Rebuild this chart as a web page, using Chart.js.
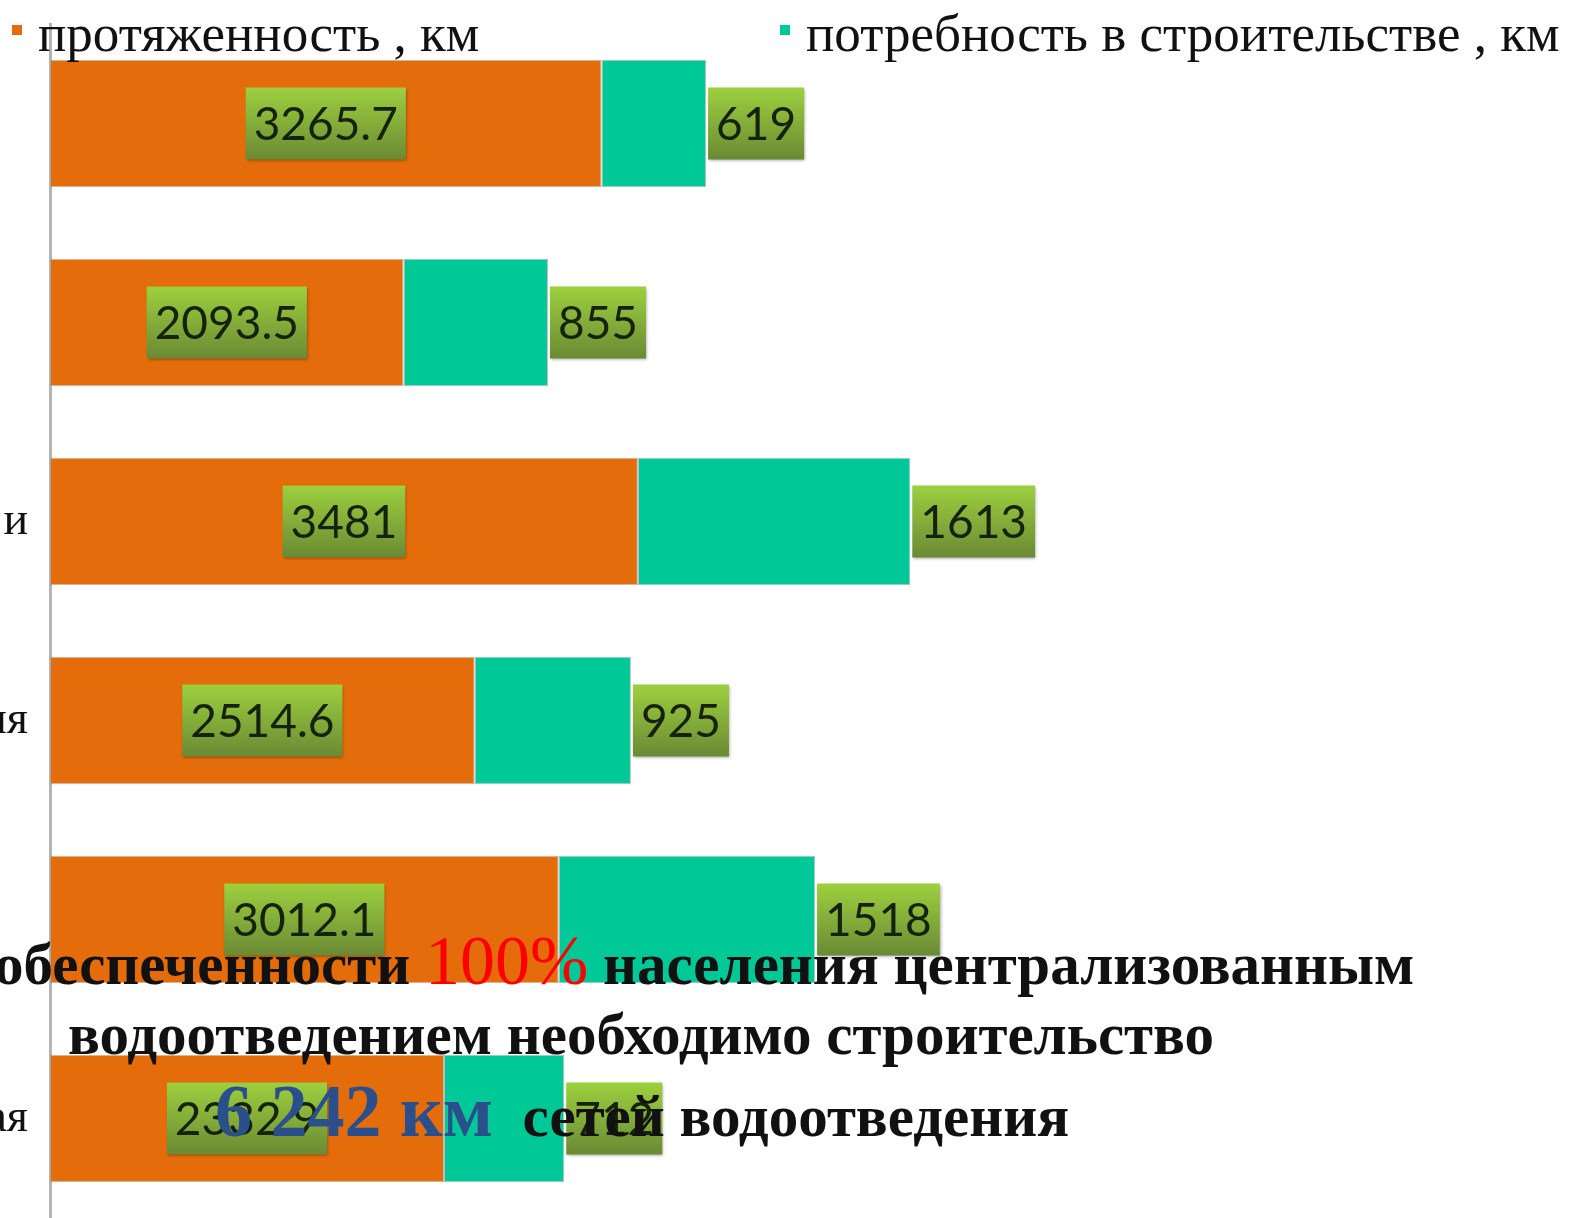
<!DOCTYPE html>
<html lang="ru">
<head>
<meta charset="utf-8">
<script src="https://cdn.jsdelivr.net/npm/chart.js@4.4.1/dist/chart.umd.min.js"></script>
<style>
  html, body { margin: 0; padding: 0; background: #fff; overflow: hidden; }
  #wrap { position: relative; width: 1570px; height: 1218px; overflow: hidden; }
  #wrap canvas { position: absolute; left: 0; top: 0; }
  #legend { position: absolute; left: 0; top: 0; margin: 0; padding: 0; list-style: none; }
  #legend li { position: absolute; top: 3px; white-space: nowrap; font: 53px "Liberation Serif", serif; color: #111; line-height: 60px; }
  #legend li span { position: absolute; top: 22px; width: 10px; height: 10px; }
  .note { position: absolute; white-space: nowrap; font: bold 59px "Liberation Serif", serif; color: #111; line-height: 60px; }
  .note .red { color: #ff0000; font-weight: normal; font-size: 70px; line-height: 0; }
  .note .blue { color: #2b4f8c; font-size: 74px; line-height: 0; }
</style>
</head>
<body>
<div id="wrap">
  <canvas id="chart" width="1570" height="1218"></canvas>
  <ul id="legend"></ul>
  <div class="note" style="left:-6px; top:934px;">обеспеченности <span class="red">100%</span> населения централизованным</div>
  <div class="note" style="left:68px; top:1004px;">водоотведением необходимо строительство</div>
  <div class="note" style="left:215px; top:1086px;"><span class="blue">6 242 км</span>&nbsp; сетей водоотведения</div>
</div>
<script>
// категории (подписи обрезаны слева, видны только окончания)
const categories = ["", "", "и", "ия", "", "ая"];
// ряды данных
const lengthKm = [3265.7, 2093.5, 3481, 2514.6, 3012.1, 2332.9];
const needKm = [619, 855, 1613, 925, 1518, 712];
const seriesNames = ["протяженность , км", "потребность в строительстве , км"];
const seriesColors = ["#e46c0a", "#00c896"];

// легенда
const legendElem = document.getElementById("legend");
const legendX = [12, 780];
seriesNames.forEach((name, idx) => {
  const li = document.createElement("li");
  const badge = document.createElement("span");
  li.textContent = name;
  li.style.left = legendX[idx] + 26 + "px";
  badge.style.left = "-26px";
  badge.style.backgroundColor = seriesColors[idx];
  li.prepend(badge);
  legendElem.appendChild(li);
});

// подписи значений (зелёные плашки)
const valueLabels = {
  id: "valueLabels",
  afterDatasetsDraw(chart) {
    const ctx = chart.ctx;
    ctx.save();
    ctx.font = "46px Lato";
    ctx.textAlign = "center";
    ctx.textBaseline = "middle";
    chart.data.datasets.forEach((ds, di) => {
      chart.getDatasetMeta(di).data.forEach((bar, i) => {
        const text = String(ds.data[i]);
        const w = ctx.measureText(text).width + 16;
        const h = 72;
        const cx = di === 0 ? (bar.x + bar.base) / 2 : bar.x + 2 + w / 2;
        const cy = bar.y;
        const grad = ctx.createLinearGradient(0, cy - h / 2, 0, cy + h / 2);
        grad.addColorStop(0, "#9dd03e");
        grad.addColorStop(1, "#6a8a34");
        ctx.shadowColor = "rgba(0,0,0,0.35)";
        ctx.shadowBlur = 3;
        ctx.shadowOffsetX = 1;
        ctx.shadowOffsetY = 1;
        ctx.fillStyle = grad;
        ctx.fillRect(cx - w / 2, cy - h / 2, w, h);
        ctx.shadowColor = "transparent";
        ctx.fillStyle = "#15220d";
        ctx.fillText(text, cx, cy + 2);
      });
    });
    ctx.restore();
  },
};

const ctx = document.getElementById("chart").getContext("2d");
new Chart(ctx, {
  type: "bar",
  data: {
    labels: categories,
    datasets: [
      { label: seriesNames[0], data: lengthKm, backgroundColor: seriesColors[0], borderColor: "rgba(160,160,160,0.7)", borderWidth: 1, borderSkipped: false },
      { label: seriesNames[1], data: needKm, backgroundColor: seriesColors[1], borderColor: "rgba(160,160,160,0.7)", borderWidth: 1, borderSkipped: false },
    ],
  },
  options: {
    indexAxis: "y",
    responsive: false,
    animation: false,
    layout: { padding: { top: 24, right: 0, bottom: 0, left: 0 } },
    plugins: { legend: { display: false }, tooltip: { enabled: false } },
    scales: {
      x: { stacked: true, min: 0, max: 9000, display: false },
      y: {
        stacked: true,
        grid: { display: false },
        border: { display: true, color: "#b4b4b4", width: 3 },
        ticks: { color: "#111", font: { family: "Liberation Serif", size: 46 }, padding: 14 },
        afterFit(axis) {
          axis.width = 50;
          axis.paddingTop = 0;
          axis.paddingBottom = 0;
        },
      },
    },
    datasets: { bar: { categoryPercentage: 1, barPercentage: 0.64 } },
  },
  plugins: [valueLabels],
});
</script>
</body>
</html>
